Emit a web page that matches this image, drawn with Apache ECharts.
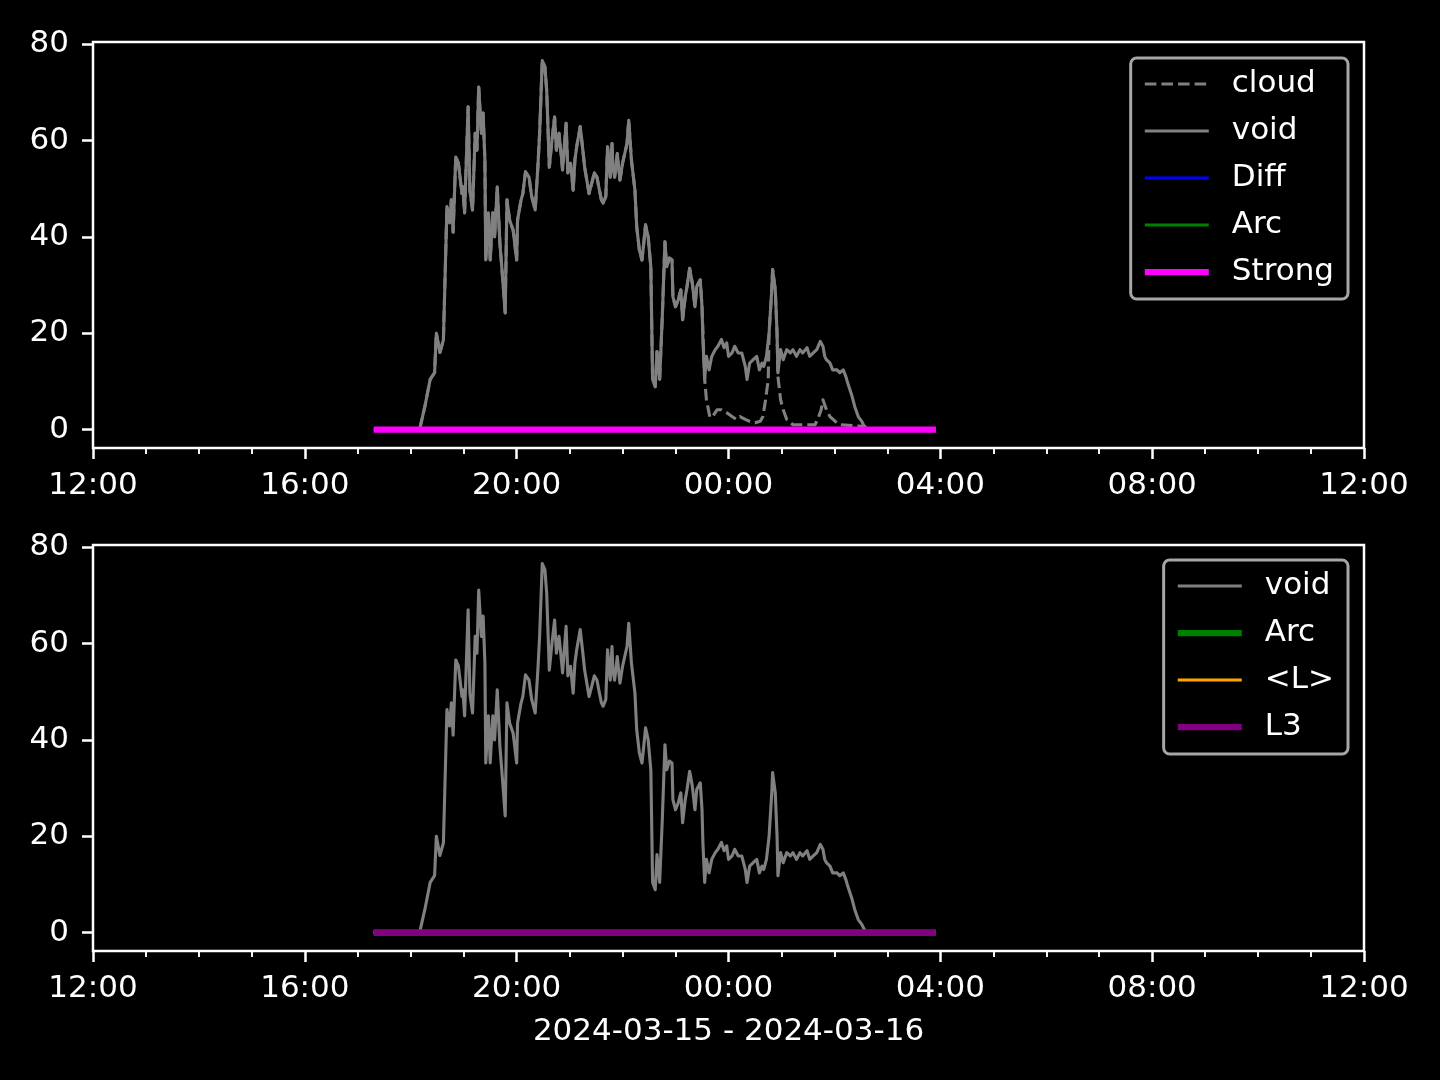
<!DOCTYPE html>
<html>
<head>
<meta charset="utf-8">
<script src="https://cdn.jsdelivr.net/npm/echarts@6/dist/echarts.min.js"></script>
<style>
html,body{margin:0;padding:0;background:#000;}
#chart{width:1440px;height:1080px;}
</style>
</head>
<body>
<div id="chart"></div>
<script>
// x values: minutes after 2024-03-15 12:00
const tickLabels = ['12:00', '16:00', '20:00', '00:00', '04:00', '08:00', '12:00'];
const yTicks = [0, 20, 40, 60, 80];
const xLabel = '2024-03-15 - 2024-03-16';

const voidMin = [370,376,382,387,389,393,397,401,404,406,408,411,414,418,419,421,425,427,430,433,435,437,440,442,444,445,448,450,453,455,458,461,464,467,469,472,476,480,481,485,487,490,494,497,501,504,506,509,512,514,517,520,523,525,528,531,532,536,538,541,544,546,548,552,555,557,562,565,568,571,573,576,578,581,583,586,588,589,591,594,597,600,605,607,610,614,616,619,622,624,626,629,632,634,637,639,642,645,648,650,653,656,657,660,663,666,668,671,673,676,679,682,684,688,690,691,693,695,698,701,705,708,712,715,718,720,724,727,731,735,739,741,744,748,752,755,758,760,763,766,769,770,773,775,776,779,782,786,790,793,797,801,804,809,812,816,820,824,827,829,831,835,838,843,846,850,853,855,860,863,867,871,874,876];
const voidVal = [0,4.8,10.4,11.8,20,16,18.6,46.3,42.9,47.7,41,56.6,55.3,49,50.4,45,67,49.7,45.6,61.5,58,71.1,61.5,65.7,56,35.2,45,35.2,45,40,50.4,38.7,31.7,24.2,47.7,43.5,41.4,35.2,43.5,47.7,49,53.5,52.4,48.4,45.6,54.5,61.5,76.6,75.3,70.5,54.5,60.1,64.9,58,61.5,56,53.9,63.6,53.3,55.3,49.7,56,58.7,62.9,58,54.5,49,51.1,53.3,52.4,50.4,47.7,47,48.4,58.7,52.4,59.4,54.5,52.4,57.3,51.8,55.3,59.4,64.2,56,49.7,42.1,37.3,35.2,38.7,42.5,40,33.8,10.4,8.9,16.2,10.4,23.5,39,33.8,35.6,35.2,27.6,25.5,26.9,29,22.8,27.6,29.7,33.5,30.4,25.5,29.7,31.1,25.5,18.7,10.4,15.2,12.4,15.2,16.6,17.3,18.7,17,18,15.2,15.9,17.3,15.9,15.9,13.1,10.4,13.8,14.5,15.2,12.4,13.8,13.1,15.2,20,29,33.2,29,20,11.8,16.6,14.5,16.6,15.9,16.6,15.2,16.6,15.9,17,15.2,15.9,16.6,18.3,17.3,15.2,14.5,13.8,12.4,12.4,11.8,12.4,11,9.7,6.9,4.8,2.7,1.7,0.6,0];

const cloudMin = [370,376,382,387,389,393,397,401,404,406,408,411,414,418,419,421,425,427,430,433,435,437,440,442,444,445,448,450,453,455,458,461,464,467,469,472,476,480,481,485,487,490,494,497,501,504,506,509,512,514,517,520,523,525,528,531,532,536,538,541,544,546,548,552,555,557,562,565,568,571,573,576,578,581,583,586,588,589,591,594,597,600,605,607,610,614,616,619,622,624,626,629,632,634,637,639,642,645,648,650,653,656,657,660,663,666,668,671,673,676,679,682,684,688,690,693,695,699,702,707,712,718,724,729,733,739,744,750,756,759,762,765,766,769,770,773,775,776,779,782,786,793,801,812,818,821,825,827,831,835,841,846,876];
const cloudVal = [0,4.8,10.4,11.8,20,16,18.6,46.3,42.9,47.7,41,56.6,55.3,49,50.4,45,67,49.7,45.6,61.5,58,71.1,61.5,65.7,56,35.2,45,35.2,45,40,50.4,38.7,31.7,24.2,47.7,43.5,41.4,35.2,43.5,47.7,49,53.5,52.4,48.4,45.6,54.5,61.5,76.6,75.3,70.5,54.5,60.1,64.9,58,61.5,56,53.9,63.6,53.3,55.3,49.7,56,58.7,62.9,58,54.5,49,51.1,53.3,52.4,50.4,47.7,47,48.4,58.7,52.4,59.4,54.5,52.4,57.3,51.8,55.3,59.4,64.2,56,49.7,42.1,37.3,35.2,38.7,42.5,40,33.8,10.4,8.9,16.2,10.4,23.5,39,33.8,35.6,35.2,27.6,25.5,26.9,29,22.8,27.6,29.7,33.5,30.4,25.5,29.7,31.1,25.5,10.4,6.2,2.5,2.7,4.1,4.1,3.5,2.7,2.1,2.7,2.1,1.7,1.4,1.7,2.7,6.2,10.4,20,29,33.2,29,20,11,6.2,4.1,2.1,1.0,1.0,1.0,1.0,2.1,4.1,6.2,4.1,2.7,1.7,1.0,0.6,0];

// flat series span (minutes after 12:00)
const flatMin = [318, 955];
const diffVal = [0, 0];
const arcVal = [0, 0];
const strongVal = [0, 0];
const lAvgVal = [0, 0];
const l3Val = [0, 0];

function pairs(xs, ys) { return xs.map((x, i) => [x, ys[i]]); }

const FONT = 'DejaVu Sans';
const FS = 31;
const THIN = 3.1, THICK = 6.25;
const DASH = [11.6, 5];

function xAxisCfg(gi, withName) {
  const a = {
    type: 'value', gridIndex: gi, min: 0, max: 1440, interval: 240,
    axisLine: { show: false, onZero: false },
    axisTick: { show: true, length: 11, lineStyle: { color: '#fff', width: 2.5 } },
    minorTick: { show: true, splitNumber: 4, length: 6, lineStyle: { color: '#fff', width: 1.9 } },
    splitLine: { show: false },
    axisLabel: { color: '#fff', fontFamily: FONT, fontSize: FS, margin: 22,
      formatter: v => tickLabels[Math.round(v / 240)] }
  };
  if (withName) {
    a.name = xLabel; a.nameLocation = 'middle'; a.nameGap = 65;
    a.nameTextStyle = { color: '#fff', fontFamily: FONT, fontSize: FS };
  }
  return a;
}
function yAxisCfg(gi) {
  return {
    type: 'value', gridIndex: gi, min: -3.83, max: 80.47,
    axisLine: { show: false, onZero: false },
    axisTick: { show: true, length: 11, customValues: yTicks, lineStyle: { color: '#fff', width: 2.5 } },
    splitLine: { show: false },
    axisLabel: { color: '#fff', fontFamily: FONT, fontSize: FS, margin: 24, customValues: yTicks }
  };
}
function line(name, xi, data, color, width, dash, z) {
  return {
    type: 'line', name: name, xAxisIndex: xi, yAxisIndex: xi, data: data,
    symbol: 'none', showSymbol: false, smooth: false, animation: false, z: z || 2,
    lineStyle: { color: color, width: width, type: dash || 'solid', cap: 'butt', join: 'round' },
    itemStyle: { color: color }
  };
}
function li(name, color, width, dash) {
  return { name: name, lineStyle: { color: color, width: width, type: dash || 'solid' } };
}
const legendCommon = {
  orient: 'vertical', right: 92, itemWidth: 64, itemHeight: 20, itemGap: 11,
  backgroundColor: '#000', borderColor: '#a6a6a6', borderWidth: 3, borderRadius: 6,
  padding: [8, 14, 9, 11],
  selectedMode: false,
  itemStyle: { opacity: 0 },
  textStyle: { color: '#fff', fontFamily: FONT, fontSize: FS, lineHeight: 36, padding: [0, 0, 0, 18] }
};

const chart = echarts.init(document.getElementById('chart'), null, { renderer: 'canvas' });
chart.setOption({
  backgroundColor: '#000',
  animation: false,
  grid: [
    { left: 93, right: 76, top: 42, height: 406, show: true, borderColor: '#fff', borderWidth: 2.5, backgroundColor: 'transparent' },
    { left: 93, right: 76, top: 545, height: 406, show: true, borderColor: '#fff', borderWidth: 2.5, backgroundColor: 'transparent' }
  ],
  xAxis: [xAxisCfg(0, false), xAxisCfg(1, true)],
  yAxis: [yAxisCfg(0), yAxisCfg(1)],
  legend: [
    Object.assign({}, legendCommon, { top: 58, data: [
      li('cloud', '#808080', THIN, DASH), li('void', '#808080', THIN), li('Diff', '#0000ff', THIN),
      li('Arc', '#008000', THIN), li('Strong', '#ff00ff', THICK) ] }),
    Object.assign({}, legendCommon, { top: 560, data: [
      li('void', '#808080', THIN), li('Arc', '#008000', THICK),
      li('<L>', '#ffa500', THIN), li('L3', '#800080', THICK) ] })
  ],
  series: [
    line('cloud', 0, pairs(cloudMin, cloudVal), '#808080', THIN, DASH),
    line('void', 0, pairs(voidMin, voidVal), '#808080', THIN),
    line('Diff', 0, pairs(flatMin, diffVal), '#0000ff', THIN),
    line('Arc', 0, pairs(flatMin, arcVal), '#008000', THIN),
    line('Strong', 0, pairs(flatMin, strongVal), '#ff00ff', THICK),
    line('void', 1, pairs(voidMin, voidVal), '#808080', THIN),
    line('Arc', 1, pairs(flatMin, arcVal), '#008000', THICK),
    line('<L>', 1, pairs(flatMin, lAvgVal), '#ffa500', THIN),
    line('L3', 1, pairs(flatMin, l3Val), '#800080', THICK)
  ]
});
</script>
</body>
</html>
